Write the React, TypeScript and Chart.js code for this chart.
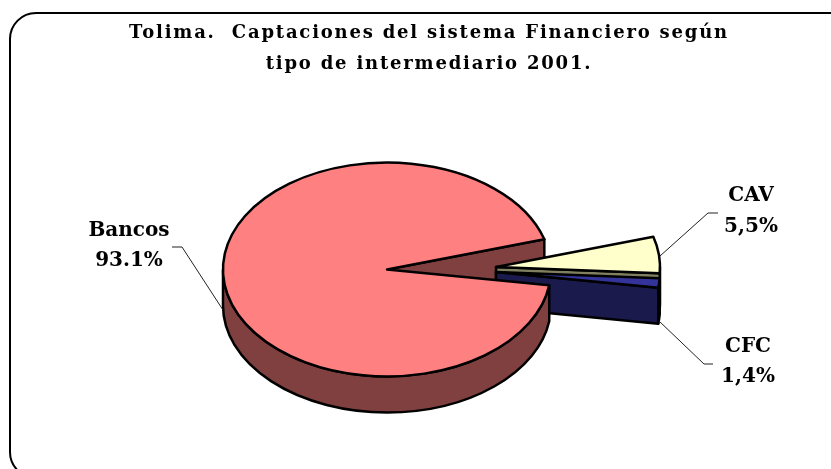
import React, { useEffect, useRef } from "react";
import { Chart, registerables } from "chart.js";

Chart.register(...registerables);

const categories = ["Bancos", "CAV", "CFC"];
const shares = [93.1, 5.5, 1.4];
const shareLabels = ["93.1%", "5,5%", "1,4%"];
const titleLines = [
  "Tolima.  Captaciones del sistema Financiero según",
  "tipo de intermediario 2001.",
];
const topColors = ["#FF8080", "#FFFFCC", "#333399"];
const sideColors = ["#804040", "#808060", "#1A1A4D"];

const SERIF = '"DejaVu Serif", "Liberation Serif", serif';
const SQUASH = 0.652;
const DEPTH = 36;
const CENTERS = [
  { x: 387, y: 269.5 },
  { x: 496, y: 267 },
  { x: 496, y: 272 },
];
const LABEL_POS = [
  { x: 129, y1: 231, y2: 261 },
  { x: 751, y1: 196, y2: 227 },
  { x: 748, y1: 347, y2: 377 },
];
const LEADERS = [
  [[172, 247], [182, 247], [223, 310]],
  [[718, 213], [708, 213], [660, 256]],
  [[713, 364], [704, 364], [659, 321]],
];

function endFace(ctx: any, c: any, rx: number, ry: number, a: number, color: string) {
  const px = c.x + rx * Math.cos(a);
  const py = c.y + ry * Math.sin(a);
  ctx.beginPath();
  ctx.moveTo(c.x, c.y);
  ctx.lineTo(px, py);
  ctx.lineTo(px, py + DEPTH);
  ctx.lineTo(c.x, c.y + DEPTH);
  ctx.closePath();
  ctx.fillStyle = color;
  ctx.fill();
  ctx.stroke();
}

function outerSide(ctx: any, c: any, rx: number, ry: number, a0: number, a1: number, color: string) {
  for (const base of [0, Math.PI * 2]) {
    const s = Math.max(a0, base);
    const e = Math.min(a1, base + Math.PI);
    if (e <= s) continue;
    ctx.beginPath();
    ctx.ellipse(c.x, c.y, rx, ry, 0, s, e);
    ctx.ellipse(c.x, c.y + DEPTH, rx, ry, 0, e, s, true);
    ctx.closePath();
    ctx.fillStyle = color;
    ctx.fill();
    ctx.stroke();
  }
}

function topFace(ctx: any, arc: any, c: any, area: any) {
  const rx = arc.outerRadius;
  const ry = rx * SQUASH;
  ctx.save();
  ctx.translate(c.x, c.y);
  ctx.scale(1, SQUASH);
  ctx.translate(-arc.x, -arc.y);
  arc.draw(ctx, area);
  ctx.restore();
  ctx.beginPath();
  ctx.moveTo(c.x, c.y);
  ctx.ellipse(c.x, c.y, rx, ry, 0, arc.startAngle, arc.endAngle);
  ctx.closePath();
  ctx.stroke();
}

const scene = {
  id: "scene",
  afterLayout(chart: any) {
    chart.titleBlock.left += 42;
    chart.titleBlock.right += 42;
  },
  beforeDraw(chart: any) {
    const ctx = chart.ctx;
    ctx.save();
    ctx.fillStyle = "#FFFFFF";
    ctx.fillRect(0, 0, 831, 469);
    ctx.strokeStyle = "#000000";
    ctx.lineWidth = 2;
    ctx.beginPath();
    ctx.roundRect(10, 13, 900, 465, 26);
    ctx.stroke();
    ctx.restore();
    ctx.letterSpacing = "1.8px";
  },
  beforeDatasetsDraw(chart: any) {
    const ctx = chart.ctx;
    ctx.letterSpacing = "0px";
    const arcs = chart.getDatasetMeta(0).data;
    ctx.save();
    ctx.strokeStyle = "#000000";
    ctx.lineWidth = 2.5;
    ctx.lineJoin = "round";
    const r = arcs[0].outerRadius;
    const ry = r * SQUASH;
    endFace(ctx, CENTERS[0], r, ry, arcs[0].endAngle, sideColors[0]);
    for (const i of [1, 2]) {
      outerSide(ctx, CENTERS[i], r, ry, arcs[i].startAngle, arcs[i].endAngle, sideColors[i]);
      endFace(ctx, CENTERS[i], r, ry, arcs[i].endAngle, sideColors[i]);
      topFace(ctx, arcs[i], CENTERS[i], chart.chartArea);
    }
    outerSide(ctx, CENTERS[0], r, ry, arcs[0].startAngle, arcs[0].endAngle, sideColors[0]);
    topFace(ctx, arcs[0], CENTERS[0], chart.chartArea);

    ctx.strokeStyle = "#222222";
    ctx.lineWidth = 1;
    for (const pts of LEADERS) {
      ctx.beginPath();
      pts.forEach((p, k) => (k ? ctx.lineTo(p[0], p[1]) : ctx.moveTo(p[0], p[1])));
      ctx.stroke();
    }
    ctx.fillStyle = "#000000";
    ctx.font = `bold 20px ${SERIF}`;
    ctx.textAlign = "center";
    ctx.textBaseline = "middle";
    categories.forEach((name, i) => {
      const p = LABEL_POS[i];
      ctx.fillText(name, p.x, p.y1);
      ctx.fillText(shareLabels[i], p.x, p.y2);
    });
    ctx.restore();
    return false;
  },
};

export default function App() {
  const ref = useRef<HTMLCanvasElement>(null);
  useEffect(() => {
    const chart = new Chart(ref.current as HTMLCanvasElement, {
      type: "pie",
      data: {
        labels: categories,
        datasets: [
          {
            data: shares,
            backgroundColor: topColors,
            borderWidth: 0,
            radius: 164,
            rotation: 98.44,
          } as any,
        ],
      },
      options: {
        animation: false,
        responsive: false,
        layout: { padding: { right: 57, bottom: 10 } },
        plugins: {
          legend: { display: false },
          tooltip: { enabled: false },
          title: {
            display: true,
            text: titleLines,
            color: "#000000",
            font: { family: SERIF, size: 18, weight: "bold", lineHeight: "31px" } as any,
            padding: { top: 18, bottom: 0 },
          },
        },
      },
      plugins: [scene as any],
    });
    return () => chart.destroy();
  }, []);
  return (
    <canvas
      ref={ref}
      width={831}
      height={469}
      style={{ position: "absolute", left: 0, top: 0, display: "block" }}
    />
  );
}
